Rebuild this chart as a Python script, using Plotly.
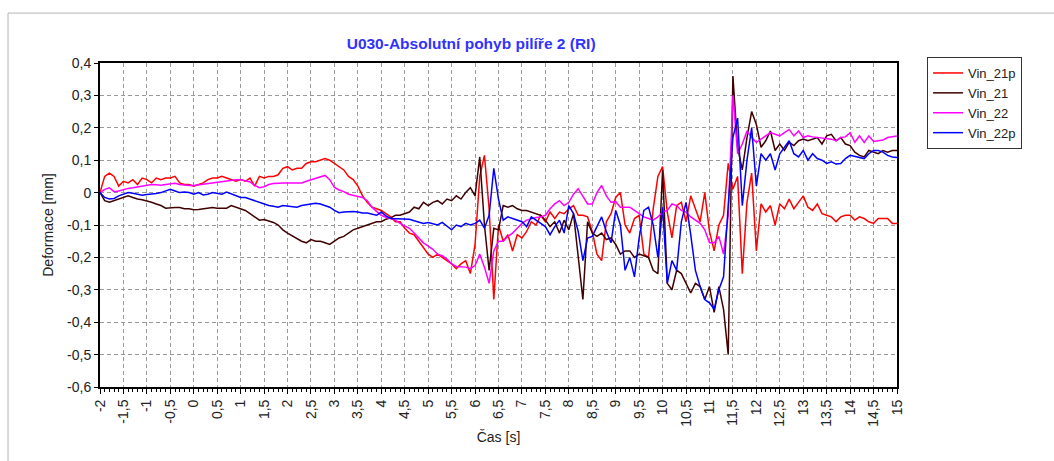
import numpy as np
import plotly.graph_objects as go

# time grid (s), sampled every 0.1 s
t = np.round(np.arange(-2.0, 15.0001, 0.1), 1)

vin_21p = [
    0.0, 0.05, 0.06, 0.05, 0.02, 0.035, 0.03, 0.04, 0.025, 0.045,
    0.04, 0.03, 0.045, 0.04, 0.045, 0.045, 0.05, 0.03, 0.025, 0.025,
    0.02, 0.025, 0.03, 0.04, 0.045, 0.045, 0.05, 0.045, 0.04, 0.035,
    0.04, 0.035, 0.045, 0.02, 0.05, 0.045, 0.05, 0.05, 0.055, 0.075,
    0.08, 0.07, 0.075, 0.075, 0.09, 0.095, 0.095, 0.1, 0.105, 0.1,
    0.09, 0.08, 0.07, 0.05, 0.04, 0.02, -0.01, -0.03, -0.045, -0.05,
    -0.055, -0.065, -0.075, -0.09, -0.09, -0.11, -0.125, -0.13, -0.15, -0.17,
    -0.19, -0.2, -0.19, -0.2, -0.21, -0.22, -0.235, -0.22, -0.21, -0.25,
    -0.16, 0.05, 0.115, -0.05, -0.33, -0.1, -0.15, -0.13, -0.18, -0.13,
    -0.14, -0.12, -0.09, -0.1, -0.07, -0.09, -0.06, -0.08, -0.06, -0.065,
    -0.05, -0.04, -0.07, -0.07, -0.075, -0.12, -0.19, -0.21, -0.09, -0.065,
    -0.015, 0.0, -0.1, -0.125, -0.08, -0.07, -0.19, -0.2, -0.05, 0.05,
    0.08, -0.06, -0.14, -0.04, -0.03, -0.09, -0.01, -0.05, -0.09, 0.0,
    -0.12, -0.18, -0.1, -0.07, 0.09, 0.01, 0.05, -0.25, -0.03, 0.06,
    -0.18, -0.035, -0.06, -0.04, -0.1, -0.035, -0.05, -0.02, -0.05, -0.03,
    -0.01, -0.045, -0.055, -0.035, -0.065, -0.07, -0.075, -0.09, -0.075, -0.07,
    -0.07, -0.085, -0.075, -0.08, -0.09, -0.095, -0.08, -0.08, -0.08, -0.095,
    -0.095,
]

vin_21 = [
    0.0, -0.025, -0.03, -0.025, -0.02, -0.015, -0.01, -0.015, -0.02, -0.022,
    -0.025, -0.03, -0.035, -0.04, -0.048, -0.046, -0.046, -0.046, -0.05, -0.05,
    -0.053, -0.052, -0.05, -0.05, -0.046, -0.048, -0.048, -0.048, -0.04, -0.045,
    -0.048, -0.055, -0.065, -0.075, -0.085, -0.083, -0.087, -0.092, -0.1, -0.115,
    -0.125, -0.133, -0.142, -0.15, -0.155, -0.145, -0.15, -0.15, -0.155, -0.16,
    -0.15, -0.14, -0.135, -0.125, -0.115, -0.11, -0.105, -0.1, -0.095, -0.09,
    -0.09, -0.082, -0.078, -0.07, -0.07, -0.065, -0.06, -0.045, -0.05, -0.03,
    -0.04, -0.03, -0.025, -0.035, -0.02, -0.025, -0.01, -0.02, 0.0, 0.015,
    -0.01, 0.11, -0.1, -0.24, -0.11, -0.115, -0.04, -0.045, -0.04, -0.05,
    -0.055, -0.055, -0.06, -0.065, -0.07, -0.085, -0.105, -0.09, -0.125, -0.085,
    -0.115, -0.065, -0.2, -0.33, -0.09, -0.125, -0.135, -0.125, -0.145, -0.14,
    -0.16, -0.19, -0.18, -0.18, -0.2, -0.19, -0.195, -0.2, -0.24, -0.25,
    0.07, -0.28, -0.3, -0.24, -0.25, -0.28, -0.31, -0.28, -0.29, -0.33,
    -0.29, -0.37, -0.29, -0.36, -0.5, 0.36, 0.14, 0.07, 0.17, 0.25,
    0.21, 0.14, 0.16, 0.19, 0.13, 0.15, 0.13, 0.155, 0.145, 0.16,
    0.165, 0.16, 0.165, 0.17, 0.15, 0.175, 0.18, 0.16, 0.17, 0.15,
    0.145, 0.125, 0.115, 0.11, 0.13, 0.125, 0.12, 0.13, 0.125, 0.13,
    0.13,
]

vin_22 = [
    0.0, 0.01, 0.015, 0.003, 0.005, 0.01, 0.013, 0.015, 0.018, 0.02,
    0.022, 0.025, 0.024, 0.023, 0.025, 0.027, 0.029, 0.025, 0.023, 0.022,
    0.022, 0.024, 0.026, 0.028, 0.03, 0.032, 0.035, 0.038, 0.04, 0.04,
    0.04, 0.036, 0.033, 0.022, 0.015, 0.018, 0.025, 0.028, 0.03, 0.03,
    0.03, 0.03, 0.03, 0.03, 0.035, 0.04, 0.043, 0.048, 0.053, 0.04,
    0.016, 0.008, 0.003, -0.005, -0.008, -0.012, -0.015, -0.025, -0.045, -0.058,
    -0.07, -0.076, -0.08, -0.085, -0.095, -0.102, -0.11, -0.125, -0.14, -0.155,
    -0.165, -0.175, -0.19, -0.195, -0.205, -0.22, -0.228, -0.23, -0.23, -0.235,
    -0.225, -0.19, -0.23, -0.28, -0.18, -0.15, -0.15, -0.135, -0.125, -0.11,
    -0.095, -0.085, -0.08, -0.077, -0.075, -0.07, -0.05, -0.035, -0.025, -0.04,
    -0.03, -0.005, 0.012, -0.01, -0.035, -0.035, 0.0, 0.022, -0.01, -0.03,
    -0.028, -0.045, -0.045, -0.045, -0.055, -0.065, -0.075, -0.08, -0.085, -0.075,
    -0.06, -0.055, -0.035, -0.04, -0.055, -0.06, -0.075, -0.085, -0.095, -0.115,
    -0.155, -0.155, -0.135, -0.19, -0.07, 0.3, 0.12, 0.15, 0.19, 0.17,
    0.155, 0.165, 0.175, 0.185, 0.18, 0.175, 0.185, 0.195, 0.175, 0.19,
    0.17, 0.175, 0.172, 0.17, 0.17, 0.168, 0.165, 0.16, 0.17, 0.172,
    0.185, 0.155, 0.175, 0.155, 0.175, 0.158, 0.16, 0.162, 0.17, 0.173,
    0.175,
]

vin_22p = [
    0.0, -0.015, -0.02, -0.018, -0.01, -0.005, 0.0, -0.002, -0.005, -0.008,
    -0.006, -0.005, -0.003, 0.0, 0.005, 0.01, 0.005, 0.0, 0.002, 0.0,
    -0.005, 0.0, -0.007, -0.005, 0.0, -0.003, -0.005, 0.002, -0.003, -0.008,
    -0.015, -0.015, -0.02, -0.026, -0.032, -0.035, -0.04, -0.042, -0.045, -0.04,
    -0.042, -0.045, -0.045, -0.04, -0.037, -0.035, -0.033, -0.035, -0.04, -0.045,
    -0.055, -0.062, -0.06, -0.058, -0.058, -0.06, -0.063, -0.063, -0.066, -0.07,
    -0.06, -0.072, -0.08, -0.08, -0.082, -0.082, -0.082, -0.087, -0.09, -0.095,
    -0.092, -0.095, -0.1, -0.092, -0.105, -0.115, -0.1, -0.105, -0.095, -0.1,
    -0.095, -0.085, -0.11, -0.07, 0.075, -0.02, -0.085, -0.075, -0.08, -0.085,
    -0.09, -0.105, -0.075, -0.085, -0.095, -0.105, -0.13, -0.105, -0.085, -0.125,
    -0.04, -0.065, -0.12, -0.21, -0.14, -0.135, -0.105, -0.075, -0.12, -0.155,
    -0.055, -0.1, -0.24, -0.2, -0.26, -0.14, -0.055, -0.045, -0.1, -0.2,
    -0.045, -0.28, -0.21, -0.24, -0.09, -0.03, -0.13, -0.24, -0.29, -0.33,
    -0.34, -0.36, -0.3, -0.26, -0.04, 0.17, 0.23, -0.04, 0.1, 0.2,
    0.02, 0.12, 0.1, 0.12, 0.07, 0.12, 0.14, 0.16, 0.12, 0.11,
    0.13, 0.1, 0.12, 0.105, 0.1, 0.09, 0.095, 0.088, 0.09, 0.105,
    0.115, 0.112, 0.11, 0.105, 0.12, 0.13, 0.13, 0.125, 0.115, 0.11,
    0.108,
]

series_names = ["Vin_21p", "Vin_21", "Vin_22", "Vin_22p"]
series_colors = ["#ff0000", "#400000", "#ff00ff", "#0000ff"]

x_tickvals = [v / 2 for v in range(-4, 31)]
x_ticktext = [("%g" % v).replace(".", ",") for v in x_tickvals]
y_tickvals = [round(v / 10, 1) for v in range(-6, 5)]
y_ticktext = [("%g" % v).replace(".", ",") for v in y_tickvals]

FONT = "Liberation Sans, Arial, sans-serif"
TXT = "#222222"

fig = go.Figure()
for name, col, vals in zip(series_names, series_colors,
                           [vin_21p, vin_21, vin_22, vin_22p]):
    fig.add_trace(go.Scatter(x=t, y=vals, mode="lines", name=name,
                             line=dict(color=col, width=1.5)))

fig.update_layout(
    width=1054, height=461,
    margin=dict(l=100, r=157, t=63, b=74),
    paper_bgcolor="white", plot_bgcolor="white",
    font=dict(family=FONT, size=14, color=TXT),
    title=dict(text="<b>U030-Absolutní pohyb pilíře 2 (RI)</b>",
               font=dict(family=FONT, size=15.5, color="#3232ff"),
               x=0.447, xanchor="center", xref="container",
               y=1 - 44 / 461, yanchor="middle", yref="container"),
    showlegend=True,
    legend=dict(x=1.0377, y=1.0185, xanchor="left", yanchor="top",
                bgcolor="white", bordercolor="#333333", borderwidth=1,
                font=dict(family=FONT, size=13, color=TXT),
                itemwidth=30, tracegroupgap=0),
    shapes=[dict(type="rect", xref="paper", yref="paper",
                 x0=-0.1154, x1=1.2, y0=-0.3, y1=1.154,
                 line=dict(color="#b4b4b4", width=1), layer="below")],
)

fig.update_xaxes(
    range=[-2, 15], tickmode="array", tickvals=x_tickvals, ticktext=x_ticktext,
    tickangle=-90, ticks="outside", ticklen=5, tickcolor="black",
    tickfont=dict(family=FONT, size=14, color=TXT),
    showgrid=True, gridcolor="#9a9a9a", griddash="4px,3px", gridwidth=1,
    showline=True, linecolor="black", linewidth=2, mirror=True,
    zeroline=False,
    minor=dict(tick0=-2, dtick=0.1, ticks="outside", ticklen=3,
               tickcolor="black", showgrid=False),
    title=dict(text="Čas [s]", font=dict(family=FONT, size=14, color=TXT),
               standoff=6),
)
fig.update_yaxes(
    range=[-0.6, 0.4], tickmode="array", tickvals=y_tickvals, ticktext=y_ticktext,
    ticks="outside", ticklen=4, tickcolor="black",
    tickfont=dict(family=FONT, size=14, color=TXT),
    showgrid=True, gridcolor="#9a9a9a", griddash="4px,3px", gridwidth=1,
    showline=True, linecolor="black", linewidth=2, mirror=True,
    zeroline=False,
    title=dict(text="Deformace [mm]", font=dict(family=FONT, size=14, color=TXT),
               standoff=10),
)

fig.write_html("out.html")
